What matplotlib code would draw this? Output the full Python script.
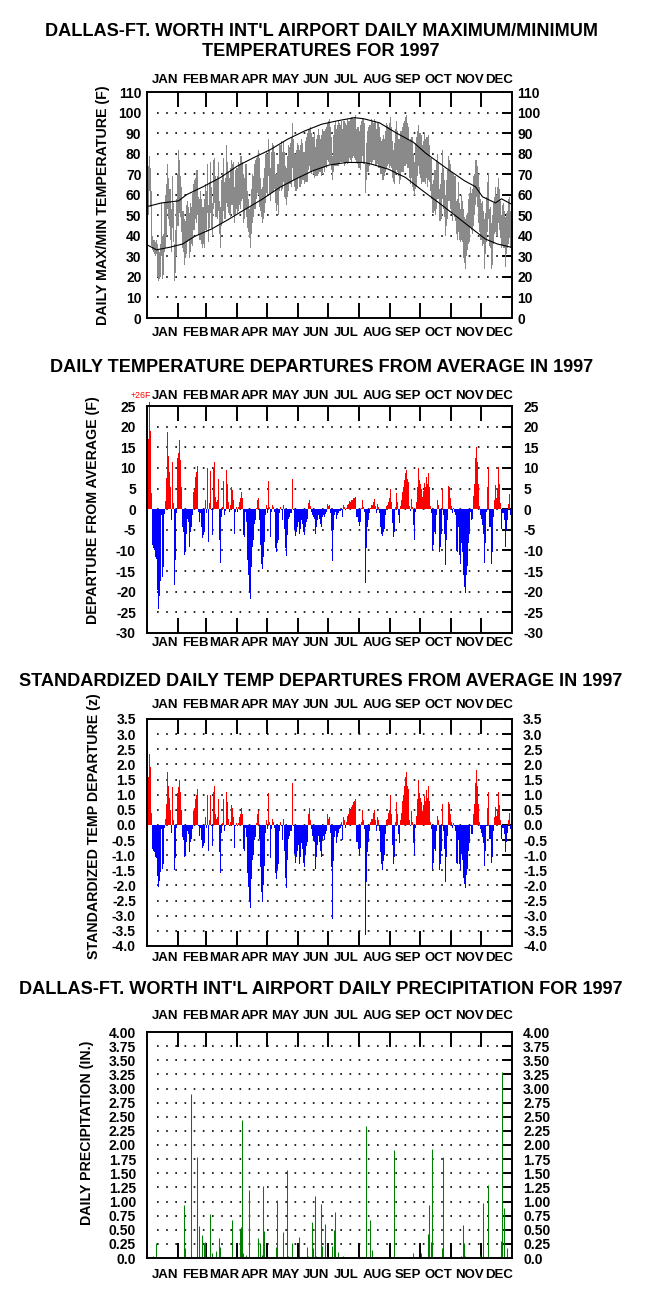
import numpy as np
import matplotlib.pyplot as plt

plt.rcParams['font.family'] = ['Liberation Sans', 'DejaVu Sans']
plt.rcParams['font.weight'] = 'bold'
plt.rcParams['axes.labelweight'] = 'bold'

months = ['JAN', 'FEB', 'MAR', 'APR', 'MAY', 'JUN',
          'JUL', 'AUG', 'SEP', 'OCT', 'NOV', 'DEC']
month_len = [31, 28, 31, 30, 31, 30, 31, 31, 30, 31, 30, 31]

# daily max / min temperature (F), 1997
tmax = [
    73, 74, 79, 73, 62, 40, 38, 38, 37, 38, 36, 33, 32, 36, 56, 40, 41, 56, 60, 65, 75, 68, 63, 63, 53, 69, 56, 36, 43, 58, 70,
    82, 77, 69, 64, 52, 52, 48, 47, 55, 57, 54, 51, 56, 54, 61, 65, 67, 68, 72, 72, 59, 58, 62, 58, 54, 54, 58, 65,
    62, 75, 55, 66, 76, 64, 56, 77, 78, 69, 67, 69, 76, 57, 54, 67, 70, 78, 66, 68, 84, 76, 71, 68, 73, 77, 75, 76, 64, 72, 73,
    73, 76, 75, 79, 79, 76, 70, 68, 75, 75, 62, 58, 53, 54, 63, 70, 69, 75, 77, 78, 79, 82, 78, 68, 63, 64, 68, 73, 80, 81,
    80, 87, 82, 73, 81, 85, 84, 81, 70, 70, 75, 75, 84, 84, 86, 81, 86, 81, 74, 73, 79, 84, 83, 85, 88, 95, 87, 80, 80, 82, 85,
    84, 82, 84, 87, 85, 81, 81, 86, 88, 90, 92, 92, 93, 90, 88, 88, 90, 83, 87, 89, 92, 89, 87, 89, 92, 91, 91, 92, 93,
    95, 96, 97, 93, 88, 79, 89, 94, 96, 92, 94, 96, 95, 94, 96, 92, 96, 96, 95, 94, 97, 96, 96, 97, 98, 98, 97, 98, 99, 92, 93,
    93, 91, 94, 96, 97, 97, 95, 75, 85, 91, 93, 94, 94, 97, 96, 95, 97, 96, 92, 95, 95, 93, 88, 86, 87, 89, 87, 91, 95, 94, 93,
    95, 98, 93, 86, 82, 85, 92, 96, 91, 87, 87, 91, 91, 93, 95, 96, 98, 99, 95, 93, 86, 87, 88, 88, 80, 76, 85, 88, 91, 94,
    90, 90, 89, 84, 86, 90, 87, 88, 88, 89, 84, 78, 78, 65, 67, 72, 72, 77, 80, 76, 63, 65, 70, 82, 73, 67, 60, 67, 72, 79, 77,
    75, 71, 71, 70, 69, 69, 57, 58, 66, 56, 53, 60, 57, 53, 49, 48, 50, 51, 58, 61, 64, 61, 63, 69, 70, 77, 77, 74, 70, 64,
    58, 56, 57, 52, 48, 51, 59, 66, 70, 53, 54, 46, 50, 56, 59, 64, 60, 64, 68, 63, 57, 50, 55, 56, 52, 49, 51, 52, 58, 59, 52, 53,
]
tmin = [
    50, 50, 62, 54, 35, 33, 32, 31, 30, 31, 20, 18, 19, 20, 30, 19, 21, 32, 34, 40, 53, 48, 45, 38, 32, 44, 37, 18, 22, 30, 45,
    45, 51, 49, 42, 34, 32, 26, 29, 31, 37, 38, 29, 32, 36, 35, 43, 43, 48, 46, 50, 41, 38, 38, 36, 34, 36, 34, 43,
    42, 51, 37, 44, 51, 44, 40, 53, 56, 49, 49, 48, 52, 41, 34, 45, 46, 52, 48, 48, 56, 54, 51, 50, 49, 55, 55, 50, 46, 50, 53,
    51, 52, 55, 53, 57, 58, 46, 48, 53, 49, 44, 42, 39, 34, 41, 46, 49, 53, 53, 58, 61, 60, 54, 52, 49, 46, 48, 51, 56, 61,
    60, 69, 60, 57, 61, 61, 62, 63, 56, 52, 55, 50, 62, 64, 62, 63, 66, 59, 58, 55, 59, 62, 65, 65, 64, 73, 67, 64, 62, 62, 63,
    68, 64, 64, 65, 67, 67, 65, 66, 66, 66, 72, 74, 71, 70, 72, 70, 68, 69, 69, 69, 70, 71, 71, 69, 70, 73, 71, 74, 73,
    77, 76, 75, 75, 72, 67, 71, 74, 74, 74, 74, 74, 75, 76, 76, 76, 76, 74, 75, 76, 75, 76, 78, 77, 76, 78, 79, 78, 77, 76, 75,
    73, 73, 72, 76, 79, 75, 75, 61, 67, 71, 71, 74, 76, 75, 76, 77, 77, 74, 74, 75, 73, 73, 70, 70, 67, 67, 69, 71, 73, 74, 75,
    73, 74, 73, 68, 66, 65, 70, 72, 71, 69, 65, 67, 71, 71, 71, 74, 74, 75, 73, 73, 68, 65, 68, 64, 62, 60, 63, 64, 69, 74,
    70, 68, 65, 66, 66, 66, 65, 68, 64, 67, 66, 62, 58, 51, 51, 52, 50, 53, 58, 58, 47, 47, 48, 58, 53, 49, 40, 45, 48, 57, 57,
    53, 51, 47, 51, 49, 47, 41, 38, 42, 38, 37, 38, 37, 29, 27, 24, 30, 33, 36, 37, 44, 43, 41, 45, 50, 55, 59, 54, 46, 42,
    38, 38, 35, 36, 24, 31, 37, 42, 48, 35, 34, 24, 26, 36, 41, 42, 40, 40, 46, 43, 39, 34, 35, 34, 34, 25, 31, 34, 36, 39, 34, 36,
]

# normal daily max / min (F)
normal_max_day = [0, 14, 31, 39, 56, 73, 90, 106, 123, 140, 157, 174, 190, 207, 216,
                  232, 249, 266, 278, 300, 317, 328, 335, 348, 354, 364]
normal_max = [54.3, 56, 57, 60, 64, 68.4, 74, 78, 82, 87, 91, 94.3, 96, 97.5, 97,
              95, 90, 85.5, 80.3, 72.5, 66.8, 63.9, 59, 56, 58, 55.4]
normal_min_day = [0, 9, 22, 35, 47, 64, 81, 98, 115, 132, 148, 165, 182, 199, 216,
                  224, 241, 258, 275, 291, 308, 325, 338, 350, 364]
normal_min = [35.5, 33.2, 34.4, 36, 39.7, 43.3, 48, 53, 57.9, 63.5, 67.6, 71.6, 74.5, 75.7, 75.7,
              74.9, 72.4, 68.4, 62, 56.2, 49.8, 43.3, 38.4, 36, 34.4]

# daily departure from average (F)
departure = [
    17, 17, 26, 19, 4, -8.7, -9.5, -10, -11.6, -12, -19.7, -24.3, -21, -17.3, -1.5, -16.5, -14, -1.2, 2, 7.5, 18.8, 13, 9, 5.4, -2.7, 11.4, 1.4, -18.3, -12.4, -1, 12.3,
    13.5, 16.7, 12, 5.4, -4.3, -5.5, -11.2, -10.4, -6, -2.3, -3, -9.1, -5.5, -4.3, -1.5, 4.2, 5, 7.8, 9.1, 10.4, -0.6, -3, -1, -4.3, -7.1, -6.2, -5.5, 2.2,
    -1, 10, -7.9, 1.4, 9.3, -0.3, -6.3, 9.9, 11.4, 3, 1.8, 2.2, 7.3, -7.5, -13, -1.9, 0.6, 6.9, -1.5, -0.5, 9.5, 6.2, 1.8, -0.6, 1, 5.4, 4.6, 2.2, -6, -0.6, 0.6,
    -0.6, 0.6, 1.8, 2.7, 4.2, 2.6, -6.3, -6.7, -0.6, -3, -12.4, -16, -20, -21.7, -14, -9.1, -7.5, -3.5, -2.7, 0.2, 2.3, 2.8, -2.7, -8.7, -13.2, -14.4, -11.6, -7.9, -1.5, 0.9,
    -1, 6.9, 0.5, -6.7, -0.8, 1.1, 0.5, -0.6, -9.5, -10.4, -8.3, -7.5, -1, 0.6, -0.3, -2.7, 1, -4.7, -9.5, -11.4, -6.3, -2.3, -1.9, -1, -1, 7.4, -0.3, -5, -6.5, -5.5, -4.3,
    -3, -5.9, -4.7, -2.7, -3.5, -5.5, -6.3, -4.3, -3, -2.3, 1.4, 2.3, 0.7, -0.6, -1.5, -1.9, -2.3, -5.9, -4.3, -2.7, -1.5, -2.3, -3.5, -4.3, -1.9, -1.5, -2, -1.2, -0.8,
    1.2, 0.7, 0.9, -0.9, -5, -12.6, -5, -1.5, -0.8, -2.3, -1.5, -1, -0.5, -0.4, 0.4, -1.9, 1, 0.6, -0.3, 0.4, 1, 1.2, 2, 1.8, 2.2, 2.3, 2.6, 2.8, 3, -1.9, -1.9,
    -3.1, -4.1, -3, 0.4, 2.2, 0.6, -0.6, -18, -9.5, -4.3, -2.7, -1, 0.4, 1, 1, 1.8, 2.4, 0.7, -0.9, 1.2, 0.6, -1, -4.3, -5.9, -6.5, -5.5, -4.7, -1.5, 0.7, 1, 1.8,
    2.6, 4.8, 1.8, -3.3, -6.7, -5.5, 0.6, 3.8, 1.8, -1.5, -3.3, 0.7, 2.2, 4.2, 5.3, 7, 8.8, 9.6, 7.2, 6.6, 0.7, -0.4, 2.5, 0.6, -3.9, -7.5, -0.6, 1.8, 5.4, 9.9,
    7, 6, 5, 3, 4.4, 6.4, 5.3, 7.8, 6.2, 8.7, 5.4, 0.7, -1, -9.9, -8.7, -5.5, -5.9, -1.5, 2.2, 0.9, -10.4, -9.1, -5.9, 5, -1.5, -5.9, -13.6, -7.5, -2.7, 5.6, 5.3,
    2.6, 0.7, -1, 0.4, -0.6, -1.5, -10.1, -10.4, -4.3, -11.2, -13.3, -8.3, -10.4, -16, -18.9, -20.3, -16, -13.8, -8.3, -5.9, -0.6, -2.7, -2.3, 3.2, 6.2, 12.3, 15.1, 11.5, 6.2, 0.8,
    -1.5, -2.3, -3.9, -5.9, -13, -8.3, -0.6, 5.3, 10.3, -4.3, -4.3, -13.2, -10.4, -1.9, 2.2, 5.9, 2.6, 4.8, 10.3, 6.2, 1.4, -4.7, -1, -1, -2.7, -9.1, -5, -2.7, 1.2, 3.6, -1.5, -1.0,
]

# standardized daily departure (z)
z_departure = [
    1.65, 1.6, 2.35, 1.9, 0.4, -0.8, -0.85, -0.9, -1.05, -1.1, -1.7, -2.05, -1.85, -1.55, -0.15, -1.45, -1.3, -0.1, 0.2, 0.7, 1.75, 1.3, 0.9, 0.5, -0.25, 1.25, 0.15, -1.5, -1.1, -0.1, 1.05,
    1.25, 1.5, 1.1, 0.5, -0.4, -0.5, -1.05, -1.0, -0.55, -0.2, -0.3, -0.9, -0.55, -0.45, -0.15, 0.45, 0.55, 0.85, 1.0, 1.2, -0.05, -0.35, -0.1, -0.5, -0.75, -0.7, -0.6, 0.25,
    -0.1, 1.0, -0.85, 0.15, 1.0, -0.05, -0.7, 1.1, 1.3, 0.35, 0.2, 0.25, 0.85, -0.9, -1.6, -0.25, 0.05, 0.85, -0.2, -0.05, 1.1, 0.75, 0.2, -0.05, 0.1, 0.65, 0.55, 0.25, -0.75, -0.05, 0.05,
    -0.05, 0.05, 0.25, 0.35, 0.55, 0.35, -0.8, -0.85, -0.1, -0.4, -1.6, -2.05, -2.55, -2.75, -1.8, -1.15, -1.0, -0.5, -0.4, 0.05, 0.35, 0.45, -0.45, -1.4, -2.2, -2.55, -2.0, -1.35, -0.25, 0.15,
    -0.15, 1.05, 0.1, -1.1, -0.15, 0.2, 0.1, -0.1, -1.6, -1.8, -1.45, -1.3, -0.2, 0.1, -0.05, -0.5, 0.2, -0.85, -1.75, -2.1, -1.15, -0.45, -0.35, -0.2, -0.2, 1.4, -0.05, -0.95, -1.25, -1.05, -0.85,
    -0.65, -1.3, -1.05, -0.6, -0.8, -1.25, -1.4, -1.0, -0.7, -0.55, 0.35, 0.55, 0.15, -0.15, -0.35, -0.45, -0.55, -1.45, -1.05, -0.65, -0.35, -0.55, -0.85, -1.05, -0.45, -0.35, -0.5, -0.3, -0.2,
    0.35, 0.2, 0.25, -0.25, -1.4, -3.1, -1.2, -0.4, -0.2, -0.6, -0.4, -0.25, -0.15, -0.1, 0.1, -0.5, 0.25, 0.15, -0.1, 0.1, 0.3, 0.35, 0.55, 0.5, 0.6, 0.65, 0.75, 0.8, 0.85, -0.55, -0.55,
    -0.8, -1.0, -0.75, 0.1, 0.5, 0.15, -0.15, -3.65, -1.9, -0.9, -0.55, -0.2, 0.1, 0.2, 0.2, 0.4, 0.5, 0.15, -0.2, 0.25, 0.15, -0.2, -0.9, -1.3, -1.5, -1.2, -1.0, -0.3, 0.15, 0.2, 0.4,
    0.5, 1.0, 0.35, -0.65, -1.3, -1.05, 0.1, 0.75, 0.35, -0.3, -0.6, 0.15, 0.4, 0.8, 1.0, 1.3, 1.6, 1.75, 1.3, 1.2, 0.15, -0.05, 0.45, 0.1, -0.6, -1.0, -0.1, 0.3, 0.85, 1.5,
    1.05, 0.9, 0.75, 0.45, 0.65, 0.95, 0.8, 1.15, 0.9, 1.3, 0.8, 0.1, -0.15, -1.45, -1.25, -0.8, -0.85, -0.2, 0.3, 0.15, -1.5, -1.3, -0.85, 0.7, -0.2, -0.8, -1.9, -1.05, -0.35, 0.75, 0.7,
    0.35, 0.1, -0.1, 0.05, -0.05, -0.2, -1.25, -1.3, -0.5, -1.3, -1.5, -0.95, -1.15, -1.75, -1.95, -2.1, -1.65, -1.45, -0.85, -0.6, -0.05, -0.3, -0.3, 0.35, 0.7, 1.4, 1.8, 1.3, 0.7, 0.1,
    -0.15, -0.25, -0.4, -0.6, -1.35, -0.85, -0.05, 0.55, 1.1, -0.45, -0.45, -1.25, -1.05, -0.2, 0.25, 0.6, 0.3, 0.5, 1.1, 0.65, 0.15, -0.45, -0.1, -0.1, -0.3, -0.9, -0.55, -0.25, 0.15, 0.4, -0.15, -0.1,
]

# daily precipitation (in.), days with rain only (day of year, 0 = Jan 1)
precip_day = [5, 8, 14, 35, 36, 37, 43, 49, 51, 52, 54, 56, 57, 62, 64, 68, 71, 72, 75, 84,
              92, 93, 94, 95, 98, 101, 108, 110, 112, 114, 115, 116, 128, 129, 135, 139, 140, 144,
              151, 159, 160, 164, 165, 167, 168, 173, 174, 177, 179, 184, 186, 187, 190, 195,
              218, 222, 224, 246, 265, 266, 273, 280, 281, 283, 284, 294, 295,
              313, 314, 315, 316, 317, 332, 335, 340, 353, 354, 356, 359]
precip_in = [0.03, 0.27, 0.01, 0.02, 0.94, 0.18, 2.90, 1.78, 0.57, 0.02, 0.40, 0.27, 0.28, 0.78, 0.09, 0.12, 0.35, 0.20, 0.02, 0.67,
             0.51, 0.54, 2.44, 0.09, 0.06, 1.20, 0.02, 0.35, 0.27, 0.05, 1.28, 0.47, 0.20, 1.02, 0.46, 1.56, 0.03, 0.27,
             0.38, 0.20, 0.04, 0.64, 0.18, 1.10, 0.04, 0.96, 0.22, 0.61, 0.03, 0.22, 0.49, 0.82, 0.11, 0.03,
             2.33, 0.67, 0.14, 1.91, 0.09, 0.02, 0.09, 0.43, 0.94, 0.28, 1.93, 0.18, 1.79,
             0.03, 0.02, 0.58, 0.27, 0.03, 0.05, 0.98, 1.30, 0.30, 3.30, 0.88, 0.18]

days = np.arange(365) + 0.5
bounds = np.cumsum(month_len)
mids = bounds - np.array(month_len) / 2.0 + 3

H = 1310.0
fig = plt.figure(figsize=(6.62, 13.10), dpi=100)
fig.patch.set_facecolor('white')

L = 147 / 662.0
W = 365 / 662.0

month_font = dict(fontsize=9.5, family=['DejaVu Sans Condensed', 'Liberation Sans', 'DejaVu Sans'])


def make_axes(top_px, bot_px):
    return fig.add_axes([L, 1 - bot_px / H, W, (bot_px - top_px) / H])


def setup(ax, ylo, yhi, step, fmt, pad, top_off, bot_off):
    ax.set_xlim(0, 365)
    ax.set_ylim(ylo, yhi)
    ticks = np.arange(ylo, yhi + step / 2.0, step)
    ax.set_yticks(ticks)
    ax.set_yticklabels([fmt(t) for t in ticks])
    ax.tick_params(axis='y', left=False, right=True, direction='in', length=7,
                   width=1.4, labelleft=True, labelright=True, labelsize=10, pad=pad)
    ax.set_xticks(bounds[:-1])
    ax.tick_params(axis='x', top=True, bottom=True, direction='in', length=10.5,
                   width=1.4, labelbottom=False, labeltop=False)
    for s in ax.spines.values():
        s.set_linewidth(1.4)
    for t in ticks[1:-1]:
        ax.axhline(t, xmin=0.028, xmax=0.972, color='black', lw=1.2,
                   ls=(0, (1, 4.5)), zorder=0.5)
    tr = ax.get_xaxis_transform()
    h = ax.get_position().height * H
    for m, x in zip(months, mids):
        ax.text(x, 1 + top_off / h, m, transform=tr, ha='center', va='center', **month_font)
        ax.text(x, -bot_off / h, m, transform=tr, ha='center', va='center', **month_font)


ylab_kw = dict(fontsize=10.2, family=['Liberation Sans', 'DejaVu Sans'])
title_kw = dict(fontsize=13.1, ha='center', va='center', family=['Liberation Sans', 'DejaVu Sans'])

# panel 1: max / min temperatures
ax1 = make_axes(92, 318)
setup(ax1, 0, 110, 10, lambda t: '%d' % t, 4, 12, 15)
tmax_a = np.array(tmax, dtype=float)
tmin_a = np.array(tmin, dtype=float)
ax1.bar(days, tmax_a - tmin_a, bottom=tmin_a, width=1.0, color='#8a8a8a', linewidth=0, zorder=2)
ax1.plot(np.array(normal_max_day) + 0.5, normal_max, color='black', lw=0.8, zorder=3)
ax1.plot(np.array(normal_min_day) + 0.5, normal_min, color='black', lw=0.8, zorder=3)
ax1.set_ylabel('DAILY MAX/MIN TEMPERATURE (F)', **ylab_kw)
ax1.yaxis.set_label_coords(-0.102, 0.5)
fig.text(0.485, 1 - 32 / H, "DALLAS-FT. WORTH INT'L AIRPORT DAILY MAXIMUM/MINIMUM", **title_kw)
fig.text(0.485, 1 - 52 / H, 'TEMPERATURES FOR 1997', **title_kw)

# panel 2: departures
ax2 = make_axes(406, 633)
setup(ax2, -30, 25, 5, lambda t: '%d' % t, 8, 10, 10)
dep = np.array(departure, dtype=float)
ax2.bar(days, dep, width=1.0, color=np.where(dep >= 0, '#ff0000', '#0000ff'),
        linewidth=0, zorder=2, clip_on=False)
ax2.text(-0.016, 1 + 11 / 227.0, '+26F', transform=ax2.transAxes, ha='center', va='center',
         fontsize=6.3, color='#ff0000', fontweight='normal',
         family=['Liberation Sans', 'DejaVu Sans'])
ax2.set_ylabel('DEPARTURE FROM AVERAGE (F)', **ylab_kw)
ax2.yaxis.set_label_coords(-0.129, 0.54)
fig.text(0.485, 1 - 367 / H, 'DAILY TEMPERATURE DEPARTURES FROM AVERAGE IN 1997', **title_kw)

# panel 3: standardized departures
ax3 = make_axes(719, 946)
setup(ax3, -4.0, 3.5, 0.5, lambda t: '%.1f' % t, 8, 14, 12)
zd = np.array(z_departure, dtype=float)
ax3.bar(days, zd, width=1.0, color=np.where(zd >= 0, '#ff0000', '#0000ff'),
        linewidth=0, zorder=2)
ax3.set_ylabel('STANDARDIZED TEMP DEPARTURE (z)', **ylab_kw)
ax3.yaxis.set_label_coords(-0.126, 0.53)
fig.text(0.485, 1 - 681 / H, 'STANDARDIZED DAILY TEMP DEPARTURES FROM AVERAGE IN 1997', **title_kw)

# panel 4: precipitation
ax4 = make_axes(1032, 1258)
setup(ax4, 0, 4.0, 0.25, lambda t: '0.0' if t == 0 else '%.2f' % t, 8, 16, 17)
ax4.vlines(np.array(precip_day) + 0.5, 0, precip_in, color='#008000', lw=0.75, zorder=2)
ax4.set_ylabel('DAILY PRECIPITATION (IN.)', **ylab_kw)
ax4.yaxis.set_label_coords(-0.144, 0.553)
fig.text(0.485, 1 - 990 / H, "DALLAS-FT. WORTH INT'L AIRPORT DAILY PRECIPITATION FOR 1997", **title_kw)

fig.savefig('out.png', dpi=100, facecolor='white')
